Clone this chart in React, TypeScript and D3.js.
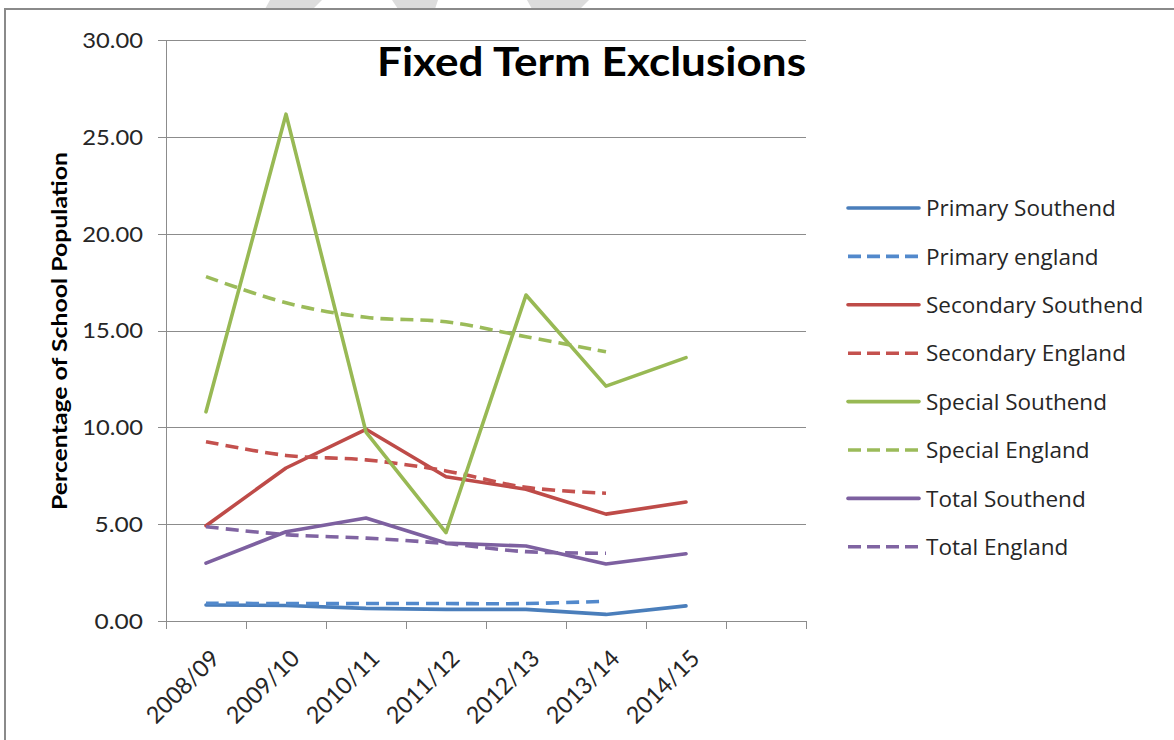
import React from "react";
import * as d3 from "d3";

// School years on the category axis (the last slot is left empty)
const categories = ["2008/09", "2009/10", "2010/11", "2011/12", "2012/13", "2013/14", "2014/15", ""];

// Fixed term exclusions as a percentage of the school population
const primarySouthend = [0.83, 0.8, 0.65, 0.6, 0.6, 0.34, 0.78];
const primaryEngland = [0.92, 0.9, 0.9, 0.9, 0.9, 1.02];
const secondarySouthend = [4.92, 7.9, 9.9, 7.45, 6.8, 5.52, 6.14];
const secondaryEngland = [9.26, 8.55, 8.32, 7.75, 6.9, 6.6];
const specialSouthend = [10.8, 26.17, 9.75, 4.56, 16.83, 12.13, 13.6];
const specialEngland = [17.78, 16.43, 15.68, 15.45, 14.68, 13.9];
const totalSouthend = [2.99, 4.61, 5.32, 4.03, 3.87, 2.94, 3.47];
const totalEngland = [4.87, 4.46, 4.28, 4.0, 3.58, 3.5];

const yTicks = [0, 5, 10, 15, 20, 25, 30];

const seriesNames = [
  "Primary Southend",
  "Primary england",
  "Secondary Southend",
  "Secondary England",
  "Special Southend",
  "Special England",
  "Total Southend",
  "Total England",
];

const W = 1174;
const H = 740;
const FONT = "Lato, 'Open Sans', sans-serif";
const LEGEND_FONT = "'Open Sans', Lato, sans-serif";

const series = [
  { name: seriesNames[0], values: primarySouthend, color: "#4a7ebb", dashed: false },
  { name: seriesNames[1], values: primaryEngland, color: "#5289cc", dashed: true },
  { name: seriesNames[2], values: secondarySouthend, color: "#be4b48", dashed: false },
  { name: seriesNames[3], values: secondaryEngland, color: "#c4514e", dashed: true },
  { name: seriesNames[4], values: specialSouthend, color: "#98b954", dashed: false },
  { name: seriesNames[5], values: specialEngland, color: "#9bbb59", dashed: true },
  { name: seriesNames[6], values: totalSouthend, color: "#7d60a0", dashed: false },
  { name: seriesNames[7], values: totalEngland, color: "#8064a2", dashed: true },
];

// width of a tick label: digits plus the decimal point
const tickLabelWidth = (s: string) => (s.length - 1) * 12.3 + 11.5;

export default function App() {
  const plot = { left: 166, right: 806, top: 40, bottom: 621 };

  const x = d3
    .scaleBand<string>()
    .domain(categories.map((c, i) => `${i}`))
    .range([plot.left, plot.right])
    .paddingInner(0)
    .paddingOuter(0);
  const bw = x.bandwidth();
  const cx = (i: number) => (x(`${i}`) as number) + bw / 2;

  const y = d3.scaleLinear().domain([0, 30]).range([plot.bottom, plot.top]);

  const straight = d3
    .line<number>()
    .x((_, i) => cx(i))
    .y((v) => y(v));
  const smooth = d3
    .line<number>()
    .x((_, i) => cx(i))
    .y((v) => y(v))
    .curve(d3.curveCardinal.tension(0));

  const tickEdges = d3.range(categories.length + 1).map((i) =>
    i < categories.length ? (x(`${i}`) as number) : plot.right
  );

  const legend = { x0: 848, x1: 919, tx: 926, y0: 208, step: 48.4 };

  // decorative grey strips above the frame
  const strips = [
    [[270, 0], [322, 0], [313, 9], [265, 9]],
    [[392, 0], [438, 0], [435, 9], [398, 9]],
    [[527, 0], [589, 0], [580, 9], [532, 9]],
  ];

  return (
    <svg
      width={W}
      height={H}
      viewBox={`0 0 ${W} ${H}`}
      style={{ position: "absolute", left: 0, top: 0, background: "#fff" }}
    >
      <rect x={0} y={0} width={W} height={H} fill="#fff" />
      {strips.map((p, i) => (
        <polygon key={i} points={p.map((q) => q.join(",")).join(" ")} fill="#dcdcdc" />
      ))}
      {/* outer frame */}
      <line x1={4} x2={W} y1={9} y2={9} stroke="#8a8a8a" strokeWidth={2} />
      <line x1={5} x2={5} y1={8} y2={H} stroke="#8a8a8a" strokeWidth={2} />

      {/* gridlines */}
      {yTicks.map((t) => (
        <line
          key={`g${t}`}
          x1={plot.left - 8}
          x2={plot.right}
          y1={Math.round(y(t)) + 0.5}
          y2={Math.round(y(t)) + 0.5}
          stroke="#8c8c8c"
          strokeWidth={1}
        />
      ))}
      {/* value axis */}
      <line
        x1={plot.left + 0.5}
        x2={plot.left + 0.5}
        y1={plot.top}
        y2={plot.bottom}
        stroke="#8c8c8c"
        strokeWidth={1}
      />
      {/* category ticks */}
      {tickEdges.map((tx, i) => (
        <line
          key={`t${i}`}
          x1={Math.round(tx) + 0.5}
          x2={Math.round(tx) + 0.5}
          y1={plot.bottom}
          y2={plot.bottom + 8}
          stroke="#8c8c8c"
          strokeWidth={1}
        />
      ))}

      {/* y tick labels */}
      {yTicks.map((t) => {
        const label = t.toFixed(2);
        return (
          <text
            key={`yl${t}`}
            x={143}
            y={y(t)}
            dy="0.36em"
            textAnchor="end"
            fontFamily={FONT}
            fontSize={22}
            fill="#262626"
            textLength={tickLabelWidth(label)}
            lengthAdjust="spacingAndGlyphs"
          >
            {label}
          </text>
        );
      })}

      {/* x tick labels */}
      {categories.map((c, i) =>
        c ? (
          <text
            key={`xl${i}`}
            transform={`translate(${cx(i) + 15},${660}) rotate(-45)`}
            textAnchor="end"
            fontFamily={FONT}
            fontSize={23.5}
            fill="#262626"
            textLength={92}
            lengthAdjust="spacingAndGlyphs"
          >
            {c}
          </text>
        ) : null
      )}

      {/* axis title */}
      <text
        transform={`translate(67,331) rotate(-90)`}
        textAnchor="middle"
        fontFamily={FONT}
        fontWeight={700}
        fontSize={20}
        fill="#000"
        textLength={358}
        lengthAdjust="spacingAndGlyphs"
      >
        Percentage of School Population
      </text>

      {/* chart title */}
      <text
        x={806}
        y={76}
        textAnchor="end"
        fontFamily={FONT}
        fontWeight={700}
        fontSize={41}
        fill="#000"
        textLength={429}
        lengthAdjust="spacingAndGlyphs"
      >
        Fixed Term Exclusions
      </text>

      {/* series lines */}
      {series.map((s) => (
        <path
          key={s.name}
          d={(s.dashed ? smooth : straight)(s.values) || ""}
          fill="none"
          stroke={s.color}
          strokeWidth={3.6}
          strokeLinejoin="round"
          strokeLinecap={s.dashed ? "butt" : "round"}
          strokeDasharray={s.dashed ? "13 7" : undefined}
        />
      ))}

      {/* legend */}
      {series.map((s, i) => {
        const ly = legend.y0 + i * legend.step;
        return (
          <g key={`lg${i}`}>
            <line
              x1={legend.x0}
              x2={legend.x1}
              y1={ly}
              y2={ly}
              stroke={s.color}
              strokeWidth={3.6}
              strokeLinecap={s.dashed ? "butt" : "round"}
              strokeDasharray={s.dashed ? "13 6" : undefined}
            />
            <text
              x={legend.tx}
              y={ly}
              dy="0.36em"
              fontFamily={LEGEND_FONT}
              fontSize={22.5}
              fill="#262626"
            >
              {s.name}
            </text>
          </g>
        );
      })}
    </svg>
  );
}
